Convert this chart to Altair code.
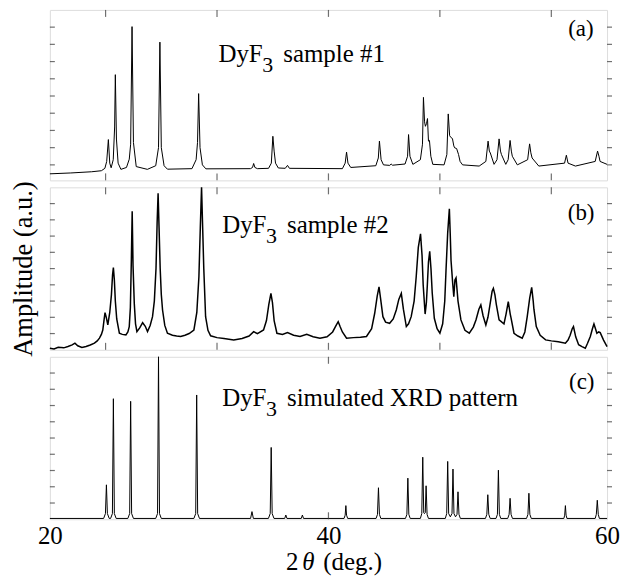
import altair as alt
import pandas as pd

FONT = "Liberation Serif"

# ---------------- data ----------------
# Panel (a): DyF3 sample #1
a_deg = [20.0, 21.5, 23.0, 23.7, 23.95, 24.08, 24.2, 24.3, 24.4, 24.55, 24.65, 24.7, 24.78, 24.9,
         25.1, 25.5, 25.7, 25.8, 25.9, 26.0, 26.2, 27.0, 27.6, 27.8, 27.9, 28.0, 28.2, 28.44,
         30.2, 30.5, 30.6, 30.68, 30.78, 30.95, 31.2, 34.4, 34.55, 34.63, 34.72, 34.9,
         35.7, 35.9, 36.01, 36.1, 36.2, 36.4, 36.9, 37.06, 37.2, 41.0, 41.2, 41.3, 41.4, 41.6,
         43.4, 43.58, 43.66, 43.78, 43.95, 44.4, 44.5, 44.6, 45.5, 45.68, 45.75, 45.85, 46.06,
         46.6, 46.75, 46.82, 46.9, 46.96, 47.04, 47.11, 47.18, 47.25, 47.35, 47.49,
         48.3, 48.5, 48.6, 48.7, 48.78, 48.9, 49.0, 49.06, 49.2, 49.34, 49.45, 49.63,
         50.82, 51.3, 51.46, 51.55, 51.62, 51.89, 52.1, 52.25, 52.35, 52.42, 52.73,
         52.9, 53.04, 53.13, 53.2, 53.56, 54.3, 54.44, 54.53, 54.62, 55.1,
         56.95, 57.08, 57.2, 57.73, 59.15, 59.32, 59.42, 59.5, 60.0]
a_amp = [0.48, 0.53, 0.6, 0.66, 0.8, 1.2, 2.47, 1.1, 0.83, 1.3, 3.2, 6.24, 2.5, 1.1,
         0.74, 0.85, 1.33, 2.2, 9.03, 2.3, 0.9, 0.74, 0.95, 2.0, 8.13, 2.0, 0.95, 0.75,
         0.78, 1.3, 2.3, 5.14, 2.0, 1.0, 0.77, 0.78, 0.85, 1.08, 0.85, 0.78,
         0.8, 1.1, 2.66, 1.8, 1.1, 0.82, 0.8, 0.97, 0.8, 0.78, 1.1, 1.74, 1.1, 0.85,
         0.95, 1.4, 2.38, 1.3, 1.0, 0.97, 1.05, 0.98, 1.05, 1.5, 2.76, 1.5, 1.03,
         1.3, 2.2, 4.92, 3.5, 3.24, 3.4, 3.69, 2.38, 2.42, 1.5, 1.03,
         1.0, 1.6, 3.96, 2.7, 2.6, 2.53, 2.1, 1.99, 1.95, 1.6, 1.2, 1.0,
         0.93, 1.2, 2.38, 1.8, 1.69, 1.03, 1.3, 2.51, 1.8, 1.6, 1.03,
         1.3, 2.42, 1.8, 1.5, 1.0, 1.3, 2.22, 1.7, 1.4, 0.93,
         1.1, 1.56, 1.1, 0.93, 1.2, 1.8, 1.5, 1.2, 1.03]

# Panel (b): DyF3 sample #2
b_deg = [20.0, 20.3, 20.6, 21.0, 21.3, 21.6, 21.8, 22.0, 22.3, 22.6, 22.9, 23.2, 23.4, 23.56,
         23.7, 23.8, 23.9, 23.96, 24.05, 24.16, 24.3, 24.42, 24.5, 24.56, 24.63, 24.7, 24.8,
         24.99, 25.2, 25.46, 25.6, 25.7, 25.78, 25.85, 25.91, 25.97, 26.06, 26.15, 26.25,
         26.45, 26.66, 26.85, 27.01, 27.2, 27.37, 27.5, 27.62, 27.7, 27.77, 27.84, 27.92,
         28.0, 28.09, 28.25, 28.44, 28.8, 29.1, 29.39, 29.7, 30.0, 30.34, 30.55, 30.7, 30.8,
         30.89, 30.97, 31.05, 31.18, 31.35, 31.54, 32.0, 32.5, 33.2, 33.8, 34.3, 34.63, 34.9,
         35.34, 35.55, 35.72, 35.87, 35.98, 36.1, 36.3, 36.7, 37.06, 37.5, 37.96, 38.44,
         38.9, 39.39, 39.9, 40.3, 40.55, 40.7, 40.85, 41.0, 41.3, 41.8, 42.3, 42.73, 43.1,
         43.32, 43.5, 43.63, 43.75, 43.91, 44.1, 44.39, 44.65, 44.87, 45.05, 45.23, 45.38,
         45.59, 45.75, 45.94, 46.15, 46.3, 46.45, 46.61, 46.72, 46.8, 46.94, 47.03, 47.1,
         47.18, 47.27, 47.36, 47.45, 47.6, 47.8, 48.0, 48.2, 48.35, 48.44, 48.56, 48.68,
         48.74, 48.8, 48.92, 49.0, 49.08, 49.16, 49.3, 49.51, 49.8, 50.11, 50.4, 50.59,
         50.8, 50.94, 51.1, 51.3, 51.45, 51.6, 51.75, 51.84, 51.95, 52.05, 52.25, 52.45,
         52.6, 52.75, 52.91, 53.05, 53.1, 53.32, 53.6, 53.91, 54.1, 54.27, 54.45, 54.59,
         54.7, 54.75, 54.92, 55.2, 55.59, 56.0, 56.5, 57.01, 57.2, 57.35, 57.5, 57.59,
         57.7, 57.75, 57.96, 58.2, 58.44, 58.6, 58.8, 58.95, 59.06, 59.17, 59.27, 59.4,
         59.51, 59.75, 60.0]
b_amp = [0.1, 0.05, 0.15, 0.12, 0.2, 0.3, 0.41, 0.25, 0.15, 0.2, 0.3, 0.41, 0.55, 0.72,
         0.95, 1.22, 1.9, 2.29, 2.0, 1.53, 2.3, 3.4, 4.6, 5.06, 4.3, 3.0, 1.9,
         1.02, 0.95, 0.92, 1.1, 1.43, 2.6, 5.5, 8.53, 5.2, 2.86, 1.6, 1.12,
         1.35, 1.67, 1.45, 1.12, 1.5, 2.04, 3.0, 5.0, 7.8, 9.63, 7.5, 5.0,
         3.4, 2.45, 1.5, 1.02, 0.9, 0.85, 0.82, 0.9, 1.0, 1.22, 2.3, 4.5, 7.5,
         10.0, 7.5, 5.0, 2.04, 1.2, 0.86, 0.75, 0.7, 0.61, 0.7, 0.85, 1.12, 1.0,
         1.22, 1.8, 2.8, 3.47, 2.9, 1.8, 1.02, 0.95, 1.06, 0.9, 0.82, 0.96,
         0.8, 0.71, 0.8, 1.1, 1.5, 1.73, 1.4, 1.1, 0.71, 0.75, 0.78, 0.82, 1.3,
         2.25, 3.3, 3.88, 3.1, 2.04, 1.7, 1.63, 1.9, 2.45, 3.1, 3.47, 2.5,
         1.43, 1.6, 2.04, 3.0, 4.5, 6.3, 7.14, 5.8, 4.0, 2.2, 2.9, 4.0,
         5.4, 6.06, 5.0, 3.5, 1.94, 1.3, 1.02, 1.6, 3.0, 4.9, 7.2, 8.68,
         7.2, 5.5, 4.08, 3.27, 4.3, 4.43, 3.0, 1.84, 1.2, 1.02, 1.4, 1.84,
         2.5, 2.76, 2.1, 1.53, 2.0, 2.8, 3.6, 3.78, 3.4, 2.8, 1.84, 1.7,
         1.6, 2.2, 2.96, 2.2, 2.0, 1.02, 0.85, 0.71, 1.1, 2.04, 3.2, 3.84,
         3.0, 2.5, 1.43, 0.9, 0.61, 0.55, 0.5, 0.41, 0.6, 0.9, 1.3, 1.43,
         1.0, 0.8, 0.31, 0.2, 0.1, 0.4, 0.82, 1.3, 1.59, 1.3, 1.02, 1.1,
         1.06, 0.6, 0.2]

# Panel (c): DyF3 simulated XRD pattern
c_deg = [20.0,
         23.86, 23.99, 24.06, 24.13, 24.26,
         24.36, 24.49, 24.56, 24.63, 24.76,
         25.6, 25.73, 25.8, 25.87, 26.0,
         27.6, 27.73, 27.8, 27.87, 28.0,
         30.34, 30.47, 30.54, 30.61, 30.74,
         34.41, 34.51, 34.61,
         35.69, 35.82, 35.89, 35.96, 36.09,
         36.86, 36.94, 37.02,
         38.05, 38.13, 38.21,
         41.12, 41.2, 41.25, 41.3, 41.38,
         43.42, 43.52, 43.59, 43.66, 43.76,
         45.53, 45.63, 45.7, 45.77, 45.87,
         46.6, 46.7, 46.77, 46.84, 46.89, 46.95, 47.01, 47.08, 47.18,
         48.39, 48.49, 48.56, 48.63, 48.75, 48.87, 48.94, 49.01, 49.12, 49.23, 49.3, 49.37, 49.47,
         51.27, 51.37, 51.44, 51.51, 51.61,
         52.03, 52.13, 52.2, 52.27, 52.37,
         52.87, 52.97, 53.04, 53.11, 53.21,
         54.22, 54.32, 54.39, 54.46, 54.56,
         56.9, 56.96, 57.01, 57.06, 57.12,
         59.15, 59.23, 59.3, 59.37, 59.45,
         60.0]
c_amp = [0.05,
         0.05, 0.35, 2.12, 0.35, 0.05,
         0.05, 0.35, 7.42, 0.35, 0.05,
         0.05, 0.35, 7.26, 0.35, 0.05,
         0.05, 0.35, 10.0, 0.35, 0.05,
         0.05, 0.35, 7.65, 0.35, 0.05,
         0.05, 0.47, 0.05,
         0.05, 0.35, 4.42, 0.35, 0.05,
         0.05, 0.26, 0.05,
         0.05, 0.26, 0.05,
         0.05, 0.25, 0.84, 0.25, 0.05,
         0.05, 0.3, 1.94, 0.3, 0.05,
         0.05, 0.3, 2.53, 0.3, 0.05,
         0.05, 0.35, 3.82, 0.4, 0.35, 0.4, 2.06, 0.3, 0.05,
         0.05, 0.35, 3.56, 0.35, 0.15, 0.35, 3.09, 0.35, 0.15, 0.3, 1.69, 0.3, 0.05,
         0.05, 0.3, 1.51, 0.3, 0.05,
         0.05, 0.3, 3.02, 0.3, 0.05,
         0.05, 0.3, 1.29, 0.3, 0.05,
         0.05, 0.3, 1.6, 0.3, 0.05,
         0.05, 0.25, 0.84, 0.25, 0.05,
         0.05, 0.3, 1.17, 0.3, 0.05,
         0.05]

# text content
panel_names = ["(a)", "(b)", "(c)"]
panel_texts = ["sample #1", "sample #2", "simulated XRD pattern"]
compound = ["DyF", "3"]
x_ticks_ab = [24, 32, 40, 48, 56]
x_ticks_c = [40]
x_tick_labels = [20, 40, 60]
y_ticks = [1, 2, 3, 4, 5, 6, 7, 8, 9]
y_title = "Amplitude (a.u.)"
x_title = ["2", "\u03b8", "(deg.)"]

# annotation anchors (data coords of each panel)
text_x = [32.1, 32.37, 32.37]
text_y = [6.97, 7.18, 6.97]
tag_x = [59.04, 59.1, 59.1]
tag_y = [8.46, 8.02, 8.02]
xt_x = [36.96, 38.11, 39.63]
xt_y = -3.1

FRAME = "#333333"
W = 559


def panel(deg, amp, i, height, ydom, xticks, bottom_labels=False, ytitle=None, stroke=1.0):
    df = pd.DataFrame({"deg": deg, "amp": amp})
    xs = alt.Scale(domain=[20, 60], nice=False, zero=False)
    ys = alt.Scale(domain=ydom, nice=False, zero=False)

    if ytitle:
        yax = alt.Axis(orient="left", title=ytitle, labels=False, ticks=False, tickSize=0,
                       domain=False, grid=False, titleFont=FONT, titleFontSize=26.5,
                       titleFontWeight="normal", titleColor="black", titlePadding=12)
    else:
        yax = None
    if bottom_labels:
        xax = alt.Axis(orient="bottom", values=x_tick_labels, title=None, ticks=False, tickSize=0,
                       domain=False, grid=False, labelFont=FONT, labelFontSize=25,
                       labelColor="black", labelPadding=4, labelFlush=False, format="d")
    else:
        xax = None

    def X(field):
        return alt.X(field, scale=xs, axis=xax)

    def Y(field):
        return alt.Y(field, scale=ys, axis=yax)

    line = alt.Chart(df).mark_line(color="black", strokeWidth=stroke).encode(
        x=X("deg:Q"), y=Y("amp:Q"))

    xt_df = pd.DataFrame({"t": xticks})
    yt_df = pd.DataFrame({"t": y_ticks})
    tick_kw = dict(color=FRAME, thickness=1.2)
    top_t = alt.Chart(xt_df).mark_tick(orient="vertical", size=7, **tick_kw).encode(
        x=X("t:Q"), y=alt.value(3.5))
    bot_t = alt.Chart(xt_df).mark_tick(orient="vertical", size=7, **tick_kw).encode(
        x=X("t:Q"), y=alt.value(height - 3.5))
    left_t = alt.Chart(yt_df).mark_tick(orient="horizontal", size=5, **tick_kw).encode(
        y=Y("t:Q"), x=alt.value(2.5))
    right_t = alt.Chart(yt_df).mark_tick(orient="horizontal", size=5, **tick_kw).encode(
        y=Y("t:Q"), x=alt.value(W + 2.5))

    tdf = pd.DataFrame({"x": [text_x[i]], "y": [text_y[i]], "pre": [compound[0]],
                        "sub": [compound[1]], "post": [panel_texts[i]],
                        "tx": [tag_x[i]], "ty": [tag_y[i]], "tag": [panel_names[i]]})
    t_pre = alt.Chart(tdf).mark_text(align="left", baseline="alphabetic", font=FONT,
                                     fontSize=25, color="black").encode(
        text="pre:N", x=X("x:Q"), y=Y("y:Q"))
    t_sub = alt.Chart(tdf).mark_text(align="left", baseline="alphabetic", font=FONT,
                                     fontSize=22, color="black", dx=44, dy=10).encode(
        text="sub:N", x=X("x:Q"), y=Y("y:Q"))
    t_post = alt.Chart(tdf).mark_text(align="left", baseline="alphabetic", font=FONT,
                                      fontSize=25, color="black", dx=65).encode(
        text="post:N", x=X("x:Q"), y=Y("y:Q"))
    t_tag = alt.Chart(tdf).mark_text(align="right", baseline="alphabetic", font=FONT,
                                     fontSize=23, color="black").encode(
        text="tag:N", x=X("tx:Q"), y=Y("ty:Q"))

    layers = [line, top_t, bot_t, left_t, right_t, t_pre, t_sub, t_post, t_tag]

    if bottom_labels:
        xt = pd.DataFrame({"x": xt_x, "y": [xt_y] * 3, "t": x_title})
        for k, style in enumerate(["normal", "italic", "normal"]):
            layers.append(
                alt.Chart(xt.iloc[[k]]).mark_text(align="left", baseline="alphabetic", font=FONT,
                                                  fontSize=25, fontStyle=style, color="black").encode(
                    text="t:N", x=X("x:Q"), y=Y("y:Q"))
            )

    return alt.layer(*layers).properties(width=W, height=height)


pa = panel(a_deg, a_amp, 0, 171, [0.1, 10], x_ticks_ab)
pb = panel(b_deg, b_amp, 1, 163, [0, 10], x_ticks_ab, ytitle=y_title, stroke=1.5)
pc = panel(c_deg, c_amp, 2, 163, [0, 10], x_ticks_c, bottom_labels=True)

chart = alt.vconcat(pa, pb, pc, spacing=7, bounds="flush").properties(
    padding={"left": 2, "top": 0, "right": 0, "bottom": 0}
).configure_view(stroke=FRAME, strokeWidth=1.3).configure(background="white")

chart.save("out.html", embed_options={"renderer": "svg", "actions": False})
